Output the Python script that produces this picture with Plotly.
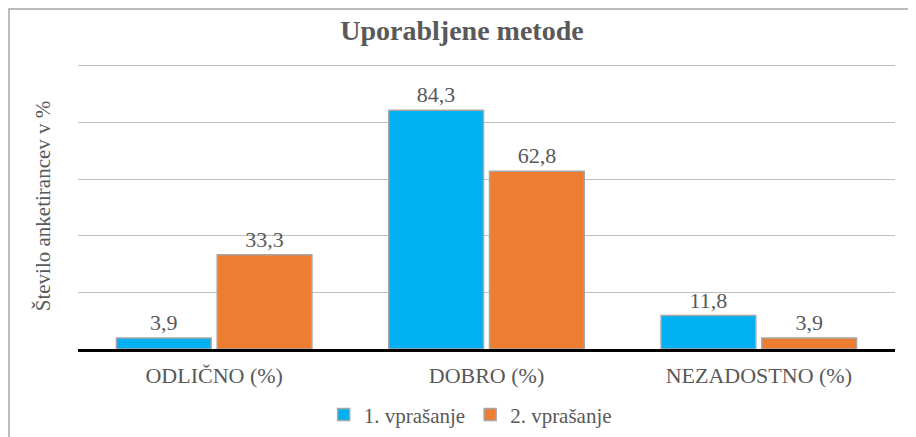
import plotly.graph_objects as go

categories = ["ODLIČNO (%)", "DOBRO (%)", "NEZADOSTNO (%)"]
series1_name = "1. vprašanje"
series1 = [3.9, 84.3, 11.8]
series2_name = "2. vprašanje"
series2 = [33.3, 62.8, 3.9]

FONT = "Liberation Serif"
GRAY = "#595959"

fig = go.Figure()
for name, vals, color in [(series1_name, series1, "#00B0F0"), (series2_name, series2, "#ED7D31")]:
    fig.add_trace(go.Bar(
        x=categories, y=vals, name=name,
        marker=dict(color=color, line=dict(color="#a6a6a6", width=1.5)),
        texttemplate="%{y:.1f}", textposition="outside",
        textfont=dict(family=FONT, size=22, color=GRAY), cliponaxis=False,
    ))

# page places the figure at an 8px body offset; sizes account for it
fig.update_layout(
    template="none",
    width=908, height=429,
    margin=dict(l=70, r=21, t=55, b=88, autoexpand=False),
    paper_bgcolor="white", plot_bgcolor="white",
    separators=", ",
    barmode="group", bargap=0.26, bargroupgap=0.06,
    font=dict(family=FONT, color=GRAY, size=21),
    title=dict(text="<b>Uporabljene metode</b>", x=0.5, xanchor="center",
               y=1 - 22 / 429, yanchor="middle", yref="container",
               font=dict(family=FONT, size=28, color=GRAY)),
    showlegend=True,
    legend=dict(orientation="h", x=0.48, xanchor="center", y=-0.23, yanchor="middle",
                font=dict(family=FONT, size=21, color=GRAY), itemwidth=30,
                traceorder="normal"),
    xaxis=dict(showline=True, linecolor="black", linewidth=2.5, ticks="",
               ticklabelstandoff=5,
               tickfont=dict(family=FONT, size=22, color=GRAY), showgrid=False),
    yaxis=dict(range=[0, 101], tickvals=[20, 40, 60, 80, 100], showticklabels=False, ticks="",
               showgrid=True, gridcolor="#bfbfbf", gridwidth=1, zeroline=False,
               showline=False,
               title=dict(text="Število anketirancev v %", standoff=20,
                          font=dict(family=FONT, size=21, color=GRAY))),
    shapes=[dict(type="rect", xref="paper", yref="paper",
                 x0=(1 - 70) / 817, x1=1.2, y0=-0.5, y1=(341 - 1) / 286,
                 line=dict(color="#a6a6a6", width=1.5), fillcolor="rgba(0,0,0,0)",
                 layer="below")],
)

fig.write_html("out.html")
